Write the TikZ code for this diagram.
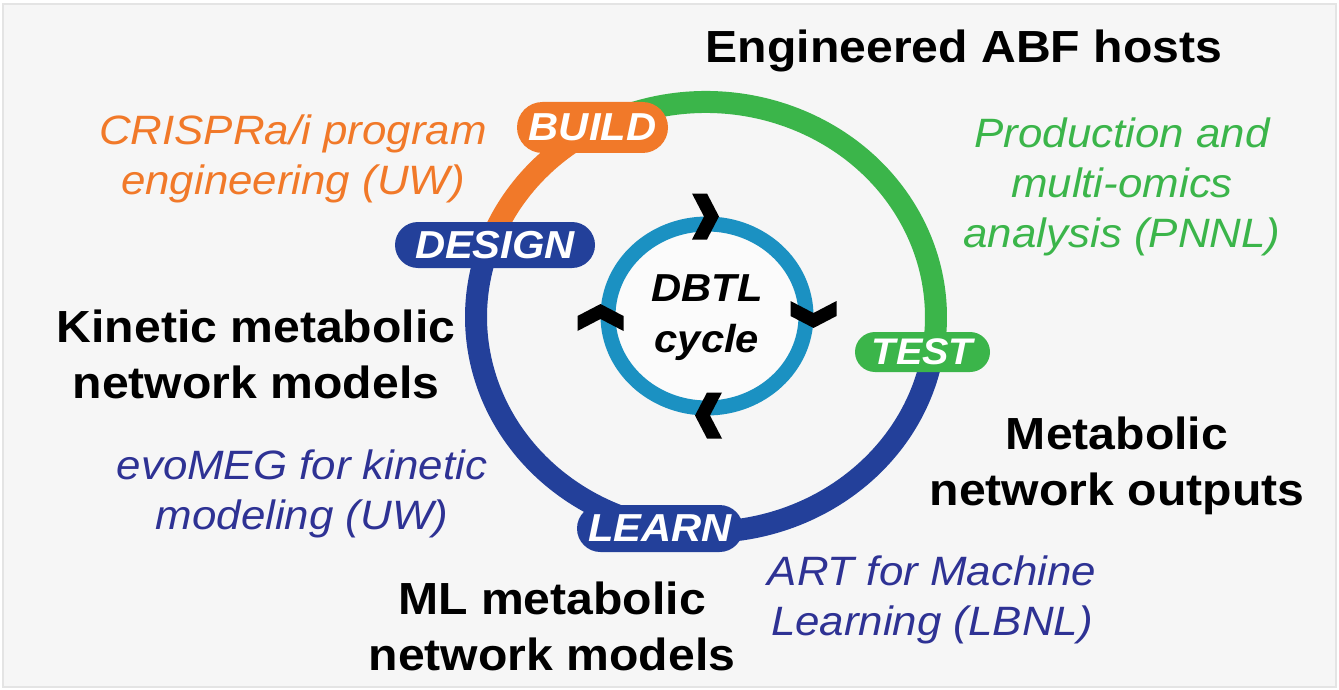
\documentclass[tikz,border=0pt]{standalone}
\usepackage{fontspec}
\usepackage{graphicx}
\setmainfont{Liberation Sans}
\usetikzlibrary{shapes.geometric,shapes.misc}

\definecolor{panelBg}{RGB}{246,246,246}
\definecolor{panelEdge}{RGB}{228,228,228}
\definecolor{buildOrange}{RGB}{241,121,41}
\definecolor{testGreen}{RGB}{59,181,74}
\definecolor{ringNavy}{RGB}{35,64,154}
\definecolor{labelNavy}{RGB}{46,50,148}
\definecolor{hubTeal}{RGB}{27,145,194}
\definecolor{hubFill}{RGB}{251,251,251}

% slightly widened lettering
\newcommand{\widetext}[1]{\scalebox{1.07}[1]{#1}}

\tikzset{
  ring/.style={line width=22pt, line cap=butt},
  pill/.style={rounded rectangle, inner sep=0pt, text=white,
    font=\bfseries\itshape\fontsize{39}{39}\selectfont},
  headline/.style={align=center, xscale=1.07, text=black,
    font=\bfseries\fontsize{45}{56}\selectfont},
  credit/.style={align=center, xscale=1.07,
    font=\itshape\fontsize{41}{50}\selectfont},
  chevron/.pic={\fill[black] (-15,23) -- (0,23) -- (12,0) -- (0,-23)
    -- (-15,-23) -- (-3,0) -- cycle;}
}

\begin{document}
\begin{tikzpicture}[x=1pt,y=1pt]
\useasboundingbox (0,0) rectangle (1339,-690);

% panel
\draw[draw=panelEdge, line width=2pt, fill=panelBg] (3,-4) rectangle (1336,-687);

% outer DBTL ring, one arc per phase colour
\coordinate (c) at (706,-317);
\draw[ring, testGreen] (c) ++(115:230 and 215)
  arc[start angle=115, end angle=-9.5, x radius=230, y radius=215];
\draw[ring, ringNavy] (c) ++(-9.5:230 and 215)
  arc[start angle=-9.5, end angle=-200, x radius=230, y radius=215];
\draw[ring, buildOrange] (c) ++(160:230 and 215)
  arc[start angle=160, end angle=115, x radius=230, y radius=215];

% phase labels
\node[pill, fill=buildOrange, minimum width=151pt, minimum height=51pt]
  (build) at (592.5,-127.5) {\widetext{BUILD}};
\node[pill, fill=ringNavy, minimum width=200pt, minimum height=46pt]
  (design) at (495,-245) {\widetext{DESIGN}};
\node[pill, fill=testGreen, minimum width=135pt, minimum height=40pt,
  font=\bfseries\itshape\fontsize{37}{37}\selectfont]
  (test) at (922.5,-352) {\widetext{TEST}};
\node[pill, fill=ringNavy, minimum width=166pt, minimum height=47pt]
  (learn) at (660,-528.5) {\widetext{LEARN}};

% central hub
\node[ellipse, draw=hubTeal, line width=15pt, fill=hubFill,
  minimum width=198pt, minimum height=184pt, inner sep=0pt] (hub) at (707,-316) {};
\node[align=center, xscale=1.07, font=\bfseries\itshape\fontsize{39}{51}\selectfont]
  (hubtext) at (707,-317.5) {DBTL\\cycle};

% clockwise chevrons on the hub ring
\pic at (hub.north) {chevron};
\pic[rotate=-90] at (hub.east) {chevron};
\pic[rotate=180] at (hub.south) {chevron};
\pic[rotate=90] at (hub.west) {chevron};

% headings
\node[headline] (hosts) at (964,-50.5) {Engineered ABF hosts};
\node[headline] (kinetic) at (256,-354) {Kinetic metabolic\\network models};
\node[headline] (outputs) at (1117,-466) {Metabolic\\network outputs};
\node[headline] (mlmodels) at (552,-626) {ML metabolic\\network models};

% contributions
\node[credit, text=buildOrange] (crispr) at (293,-159)
  {CRISPRa/i program\\engineering (UW)};
\node[credit, text=testGreen] (omics) at (1122,-187)
  {Production and\\multi-omics\\analysis (PNNL)};
\node[credit, text=labelNavy] (evomeg) at (302,-494)
  {evoMEG for kinetic\\modeling (UW)};
\node[credit, text=labelNavy] (art) at (932,-600)
  {ART for Machine\\Learning (LBNL)};
\end{tikzpicture}
\end{document}
